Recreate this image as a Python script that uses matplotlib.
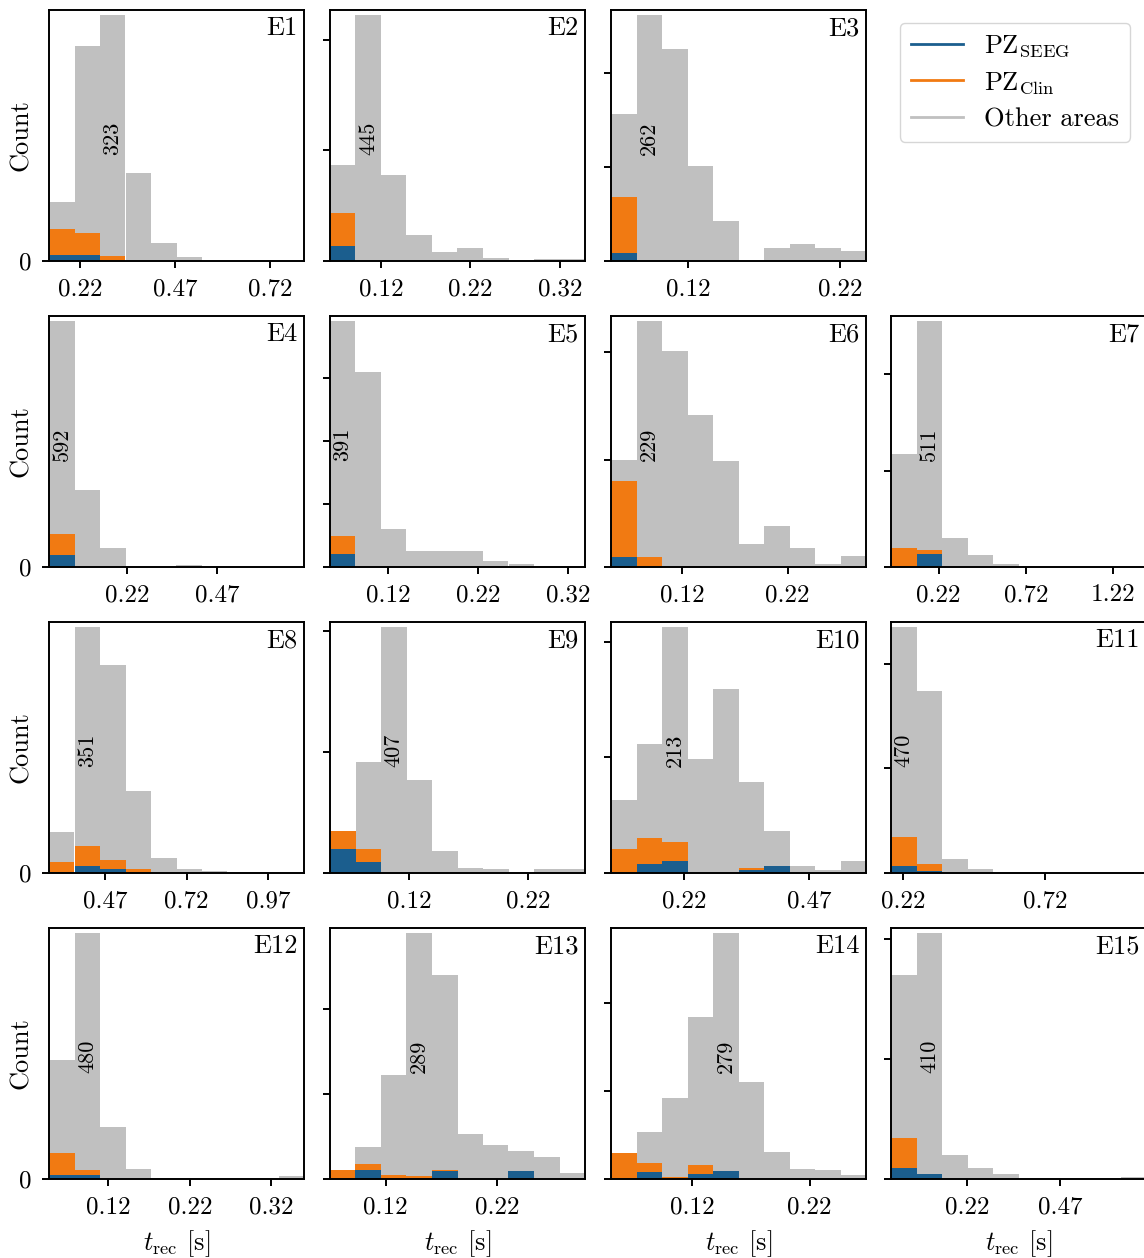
import numpy as np
import matplotlib
matplotlib.use('Agg')
import matplotlib.pyplot as plt
from matplotlib.lines import Line2D
from matplotlib.ticker import MultipleLocator

plt.rcParams['font.family'] = ['cmr10', 'DejaVu Serif']
plt.rcParams['mathtext.fontset'] = 'cm'
plt.rcParams['axes.formatter.use_mathtext'] = True
plt.rcParams['axes.unicode_minus'] = False

# --- data (10 bins per patient) ---
labels = ['E1', 'E2', 'E3', 'E4', 'E5', 'E6', 'E7', 'E8',
          'E9', 'E10', 'E11', 'E12', 'E13', 'E14', 'E15']

# histogram range [s]
x_lo = [0.138, 0.063, 0.069, 0.002, 0.055, 0.053, -0.052, 0.297,
        0.053, 0.075, 0.177, 0.047, 0.070, 0.051, 0.015]
x_hi = [0.810, 0.348, 0.237, 0.711, 0.339, 0.294, 1.408, 1.081,
        0.268, 0.583, 1.075, 0.360, 0.299, 0.268, 0.700]

other_counts = [
    [77, 282, 323, 116, 24, 5, 0, 0, 0, 0],
    [173, 445, 156, 47, 17, 24, 5, 0, 3, 3],
    [156, 262, 226, 101, 43, 0, 14, 18, 14, 11],
    [592, 185, 45, 1, 1, 6, 0, 0, 0, 0],
    [391, 310, 60, 25, 25, 25, 10, 5, 2, 2],
    [100, 229, 201, 141, 99, 21, 38, 18, 3, 10],
    [234, 511, 60, 24, 6, 0, 0, 0, 0, 0],
    [59, 351, 297, 117, 22, 5, 3, 1, 1, 0],
    [69, 184, 407, 153, 37, 9, 7, 1, 6, 6],
    [63, 112, 213, 99, 159, 79, 36, 6, 3, 10],
    [470, 348, 27, 8, 1, 1, 0, 0, 0, 0],
    [232, 480, 101, 20, 1, 1, 1, 1, 1, 5],
    [11, 38, 122, 289, 240, 53, 40, 33, 26, 7],
    [30, 53, 92, 184, 279, 110, 31, 11, 10, 5],
    [340, 410, 40, 18, 8, 1, 1, 1, 1, 3],
]
clin_counts = [
    [42, 37, 7, 0, 0, 0, 0, 0, 0, 0],
    [87, 0, 0, 0, 0, 0, 0, 0, 0, 0],
    [68, 0, 0, 0, 0, 0, 0, 0, 0, 0],
    [79, 0, 0, 0, 0, 0, 0, 0, 0, 0],
    [49, 0, 0, 0, 0, 0, 0, 0, 0, 0],
    [80, 9, 0, 0, 0, 0, 0, 0, 0, 0],
    [39, 35, 0, 0, 0, 0, 0, 0, 0, 0],
    [15, 39, 18, 5, 0, 0, 0, 0, 0, 0],
    [69, 39, 0, 0, 0, 0, 0, 0, 0, 0],
    [21, 30, 27, 0, 0, 4, 0, 0, 0, 0],
    [68, 18, 0, 0, 0, 0, 0, 0, 0, 0],
    [50, 18, 0, 0, 0, 0, 0, 0, 0, 0],
    [11, 18, 5, 4, 10, 0, 0, 0, 0, 0],
    [30, 18, 2, 16, 0, 0, 0, 0, 0, 0],
    [68, 0, 0, 0, 0, 0, 0, 0, 0, 0],
]
seeg_counts = [
    [8, 8, 0, 0, 0, 0, 0, 0, 0, 0],
    [27, 0, 0, 0, 0, 0, 0, 0, 0, 0],
    [9, 0, 0, 0, 0, 0, 0, 0, 0, 0],
    [28, 0, 0, 0, 0, 0, 0, 0, 0, 0],
    [20, 0, 0, 0, 0, 0, 0, 0, 0, 0],
    [9, 0, 0, 0, 0, 0, 0, 0, 0, 0],
    [0, 26, 0, 0, 0, 0, 0, 0, 0, 0],
    [2, 10, 5, 0, 0, 0, 0, 0, 0, 0],
    [39, 19, 0, 0, 0, 0, 0, 0, 0, 0],
    [0, 8, 10, 0, 0, 3, 6, 0, 0, 0],
    [14, 4, 0, 0, 0, 0, 0, 0, 0, 0],
    [8, 8, 0, 0, 0, 0, 0, 0, 0, 0],
    [0, 10, 0, 0, 9, 0, 0, 9, 0, 0],
    [0, 8, 0, 6, 9, 0, 0, 0, 0, 0],
    [18, 8, 0, 0, 0, 0, 0, 0, 0, 0],
]

xtick_vals = [
    [0.22, 0.47, 0.72], [0.12, 0.22, 0.32], [0.12, 0.22],
    [0.22, 0.47], [0.12, 0.22, 0.32], [0.12, 0.22], [0.22, 0.72, 1.22],
    [0.47, 0.72, 0.97], [0.12, 0.22], [0.22, 0.47], [0.22, 0.72],
    [0.12, 0.22, 0.32], [0.12, 0.22], [0.12, 0.22], [0.22, 0.47],
]
ytick_step = [None, 200, 100, None, 100, 100, 200, None, 200, 100, 200,
              None, 100, 100, 200]

# grid slot (row, col) of each panel
slots = [(0, 0), (0, 1), (0, 2),
         (1, 0), (1, 1), (1, 2), (1, 3),
         (2, 0), (2, 1), (2, 2), (2, 3),
         (3, 0), (3, 1), (3, 2), (3, 3)]

c_seeg = '#1b5e8e'
c_clin = '#f17a12'
c_other = '#c0c0c0'

W, H = 1144, 1258
fig = plt.figure(figsize=(W / 100, H / 100), dpi=100)

col_left = [49, 330, 611, 891]
row_top = [10, 316, 622, 928]
ax_w, ax_h = 255, 251

for i, lab in enumerate(labels):
    r, c = slots[i]
    ax = fig.add_axes([col_left[c] / W, 1 - (row_top[r] + ax_h) / H, ax_w / W, ax_h / H])
    edges = np.linspace(x_lo[i], x_hi[i], 11)
    widths = np.diff(edges)
    ax.bar(edges[:-1], other_counts[i], width=widths, align='edge', color=c_other, linewidth=0)
    ax.bar(edges[:-1], clin_counts[i], width=widths, align='edge', color=c_clin, linewidth=0)
    ax.bar(edges[:-1], seeg_counts[i], width=widths, align='edge', color=c_seeg, linewidth=0)

    top = max(other_counts[i])
    k = int(np.argmax(other_counts[i]))
    ax.text((edges[k] + edges[k + 1]) / 2, top / 2, str(top), rotation=90,
            ha='center', va='center', fontsize=16)
    ax.text(0.975, 0.975, lab, transform=ax.transAxes, ha='right', va='top', fontsize=19)

    ax.set_xlim(x_lo[i], x_hi[i])
    ax.set_ylim(0, top * 1.02)
    ax.set_xticks(xtick_vals[i])
    ax.set_xticklabels([f'{v:.2f}' for v in xtick_vals[i]])
    if c == 0:
        ax.set_yticks([0])
        ax.set_yticklabels(['0'])
        ax.set_ylabel('Count', fontsize=19)
        ax.yaxis.set_label_coords(-0.062, 0.5)
    else:
        ax.yaxis.set_major_locator(MultipleLocator(ytick_step[i]))
        ax.set_yticklabels([])
    if r == 3:
        ax.set_xlabel(r'$t_\mathrm{rec}$ [s]', fontsize=19, labelpad=7)
    ax.tick_params(labelsize=18, width=1.4, length=5, pad=7.5)
    for sp in ax.spines.values():
        sp.set_linewidth(1.4)

handles = [Line2D([0], [0], color=c_seeg, lw=2),
           Line2D([0], [0], color=c_clin, lw=2),
           Line2D([0], [0], color=c_other, lw=2)]
fig.legend(handles, [r'PZ$_\mathrm{SEEG}$', r'PZ$_\mathrm{Clin}$', 'Other areas'],
           loc='upper left', bbox_to_anchor=(900 / W, 1 - 23 / H), borderaxespad=0,
           fontsize=19, labelspacing=0.42)

plt.savefig('out.png', dpi=100)
